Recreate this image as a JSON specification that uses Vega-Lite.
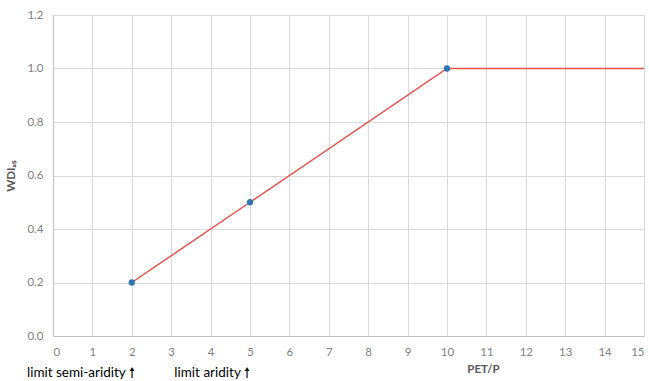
{
  "$schema": "https://vega.github.io/schema/vega-lite/v6.json",
  "width": 591,
  "height": 321,
  "autosize": {"type": "none"},
  "padding": {"left": 53, "top": 15, "right": 5, "bottom": 45},
  "background": "white",
  "config": {
    "view": {"stroke": null},
    "font": "Lato",
    "axis": {"labelColor": "#7f7f7f", "labelFontSize": 11.5, "gridColor": "#d9d9d9", "domainColor": "#bfbfbf", "ticks": false, "titleColor": "#595959", "titleFontSize": 11.5, "titleFontWeight": "bold", "labelOverlap": false}
  },
  "datasets": {
    "curve": [
      {"x": 2, "y": 0.2, "pt": true},
      {"x": 5, "y": 0.5, "pt": true},
      {"x": 10, "y": 1.0, "pt": true},
      {"x": 15, "y": 1.0, "pt": false}
    ],
    "notes": [
      {"x": 2.08, "y": -0.138, "label": "limit semi-aridity 🠕"},
      {"x": 5.0, "y": -0.138, "label": "limit aridity  🠕"}
    ]
  },
  "data": {"name": "curve"},
  "encoding": {
    "x": {"field": "x", "type": "quantitative", "scale": {"domain": [0, 15], "nice": false}, "axis": {"values": [0,1,2,3,4,5,6,7,8,9,10,11,12,13,14,15], "labelPadding": 10, "title": "PET/P", "titleX": 430, "titleY": 27, "titleAlign": "center"}},
    "y": {"field": "y", "type": "quantitative", "scale": {"domain": [0, 1.2], "nice": false}, "axis": {"values": [0, 0.2, 0.4, 0.6, 0.8, 1.0, 1.2], "format": ".1f", "labelPadding": 10, "title": "WDIₐₛ", "titlePadding": 10}}
  },
  "layer": [
    {
      "mark": {"type": "line", "color": "#e8504a", "strokeWidth": 1.5}
    },
    {
      "transform": [{"filter": "datum.pt"}],
      "mark": {"type": "point", "filled": true, "color": "#2e75b6", "size": 40, "opacity": 1}
    },
    {
      "data": {"name": "notes"},
      "mark": {"type": "text", "align": "right", "baseline": "middle", "fontSize": 13.5, "color": "#000000", "font": "Lato"},
      "encoding": {
        "text": {"field": "label"}
      }
    }
  ]
}
